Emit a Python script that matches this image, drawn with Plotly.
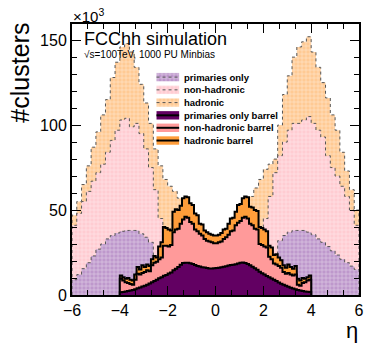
import numpy as np
import plotly.graph_objects as go

# ---------------- data (values in units of 10^3 clusters) ----------------
# full-detector stacks, 0.2-wide eta bins from -6 to 6 (drawn heights of each stack level)
hatched_edges = np.round(np.arange(-6.0, 6.0001, 0.2), 3)
primaries_only = [9, 12, 15.5, 19, 23, 27, 30, 33, 35, 36.5, 37.5, 38, 38, 38, 36, 34, 31, 16, 13, 12,
                  12, 13, 14, 15, 15, 14, 14, 14, 14, 14,
                  14, 14, 14, 14, 14, 15, 15, 14, 13, 12,
                  12, 13, 18, 32, 35, 37, 38, 38, 38, 37, 35.5, 33, 31, 28.5, 26, 23.5, 21, 19, 17, 15]
non_hadronic = [41, 48, 55, 61, 67, 72, 77, 84, 91, 97, 103, 104, 99, 101, 95, 86, 75, 62, 45, 36,
                32, 30, 28, 27, 27, 26, 25, 25, 25, 25,
                25, 25, 25, 25, 26, 27, 27, 28, 30, 32,
                45, 58, 72, 82, 90, 97, 101, 101, 103, 105, 101, 97, 93, 82, 75, 70, 64, 58, 50, 41]
hadronic = [47, 55, 65, 76, 87, 96, 106, 115, 128, 137, 146, 148, 143, 134, 124, 113, 101, 86, 76, 68,
            64, 61, 57, 52, 48, 42, 37, 33, 32, 32,
            32, 32, 34, 38, 44, 50, 52, 58, 63, 68,
            74, 77, 80, 100, 118, 129, 140, 146, 149, 152, 143, 134, 125, 116, 106, 97, 84, 73, 62, 50]

# barrel stacks, 0.1-wide eta bins from -4 to 4
barrel_edges = np.round(np.arange(-4.0, 4.0001, 0.1), 3)
primaries_only_barrel = [1.6, 1.8, 2.0, 2.3, 2.6, 3.0, 3.4, 3.9, 4.4, 5.0, 5.5, 6.1, 6.8, 7.5, 8.3, 9.0,
                         9.8, 10.5, 11.3, 11.8, 12.6, 13.3, 14.5, 15.5, 16.5, 17.8, 18.8, 19.0, 19.0, 18.7,
                         18.2, 17.6, 17.0, 16.8, 16.3, 16.2, 15.9, 15.6, 15.6, 15.8,
                         15.9, 16.1, 16.3, 16.6, 16.9, 17.3, 17.6, 17.8, 18.1, 18.6,
                         19.0, 19.1, 18.9, 18.2, 17.5, 16.6, 15.8, 14.8, 13.7, 12.8, 12.0, 11.2, 10.5, 9.7,
                         9.0, 8.2, 7.4, 6.6, 6.0, 5.4, 4.9, 4.3, 3.8, 3.4, 3.0, 2.6, 2.4, 2.1, 1.9, 1.7]
non_hadronic_barrel = [9.5, 8.5, 7.5, 7, 6.5, 6, 9, 12.5, 12, 13, 13.5, 14.5, 14, 17.5, 19, 19.5,
                       21, 22, 29, 29, 28.5, 29.5, 37, 38.5, 39, 42, 44.5, 46, 45.5, 43,
                       42, 38.5, 37.5, 36, 35, 33, 32, 31.5, 31, 30.5,
                       30.5, 31, 31.5, 33, 34, 35.5, 37.5, 38, 41, 42.5,
                       43.5, 45.5, 46, 45, 42, 41, 39, 38.5, 30, 29.5, 28.5, 28, 22.5, 21,
                       18.5, 18, 17, 16, 13.5, 12.5, 13, 12, 11.5, 12, 6, 5.5, 7, 7.5, 8.5, 9]
hadronic_barrel = [11.5, 10.5, 9.5, 10, 9, 8.5, 12, 16.5, 15, 17.5, 16.5, 18, 17, 21, 23, 22,
                   28.5, 31, 40, 39.5, 38.5, 38, 49, 50.5, 50, 52.5, 57, 58, 57.5, 54,
                   53, 48, 47, 42, 41.5, 38, 37, 36, 35.5, 35,
                   35, 35.5, 36.5, 38.5, 39, 42, 45, 45.5, 49, 53,
                   53.5, 57, 58, 57.5, 52, 51.5, 50, 49.5, 40, 39.5, 38.5, 37.5, 29, 28,
                   23.5, 24, 22, 20.5, 17.5, 16, 18, 16.5, 15.5, 17, 9.5, 8.5, 10, 9.5, 10.5, 11.5]

legend_labels = ["primaries only", "non-hadronic", "hadronic",
                 "primaries only barrel", "non-hadronic barrel", "hadronic barrel"]
x_ticks = [-6, -4, -2, 0, 2, 4, 6]
y_ticks = [0, 50, 100, 150]

# ---------------- styles ----------------
FONT = "Liberation Sans, Arial, Helvetica, sans-serif"
C_PRIM_H = "#BE98CC"
C_NONH_H = "#FFCCD2"
C_HAD_H = "#FFCA94"
C_PRIM_B = "#620062"
C_NONH_B = "#FF9A9A"
C_HAD_B = "#FF9D3A"
HATCH_LINE = "#555555"


def step_xy(edges, vals):
    edges = list(edges)
    vals = list(vals)
    xs = [edges[0]] + edges[:-1] + [edges[-1], edges[-1]]
    ys = [0] + vals + [vals[-1], 0]
    return xs, ys


def pattern(color):
    return dict(shape="+", bgcolor=color, fgcolor="white", size=4, solidity=0.28)


fig = go.Figure()

for vals, col in [(hadronic, C_HAD_H), (non_hadronic, C_NONH_H), (primaries_only, C_PRIM_H)]:
    xs, ys = step_xy(hatched_edges, vals)
    fig.add_trace(go.Scatter(x=xs, y=ys, mode="lines", line_shape="hv", fill="tozeroy",
                             fillcolor=col, fillpattern=pattern(col),
                             line=dict(color=HATCH_LINE, width=1, dash="dot"),
                             hoverinfo="skip", showlegend=False))

for vals, col in [(hadronic_barrel, C_HAD_B), (non_hadronic_barrel, C_NONH_B),
                  (primaries_only_barrel, C_PRIM_B)]:
    xs, ys = step_xy(barrel_edges, vals)
    fig.add_trace(go.Scatter(x=xs, y=ys, mode="lines", line_shape="hv", fill="tozeroy",
                             fillcolor=col, line=dict(color="black", width=2),
                             hoverinfo="skip", showlegend=False))

# ---------------- manual legend (overlay axes in plot-fraction units) ----------------
leg_x0, leg_x1, leg_tx = 0.2945, 0.3733, 0.387
leg_y = [0.804, 0.757, 0.710, 0.663, 0.617, 0.570]
half_h = 0.0155
styles = [
    (C_PRIM_H, True), (C_NONH_H, True), (C_HAD_H, True),
    (C_PRIM_B, False), (C_NONH_B, False), (C_HAD_B, False),
]
for (col, hatched), yc, lab in zip(styles, leg_y, legend_labels):
    bx = [leg_x0, leg_x1, leg_x1, leg_x0, leg_x0]
    by = [yc - half_h, yc - half_h, yc + half_h, yc + half_h, yc - half_h]
    if hatched:
        fig.add_trace(go.Scatter(x=bx, y=by, xaxis="x2", yaxis="y2", mode="lines", fill="toself",
                                 fillcolor=col, fillpattern=pattern(col), line=dict(width=0),
                                 hoverinfo="skip", showlegend=False))
        fig.add_trace(go.Scatter(x=[leg_x0, leg_x1], y=[yc, yc], xaxis="x2", yaxis="y2", mode="lines",
                                 line=dict(color=HATCH_LINE, width=1, dash="dot"),
                                 hoverinfo="skip", showlegend=False))
    else:
        fig.add_trace(go.Scatter(x=bx, y=by, xaxis="x2", yaxis="y2", mode="lines", fill="toself",
                                 fillcolor=col, line=dict(width=0),
                                 hoverinfo="skip", showlegend=False))
        fig.add_trace(go.Scatter(x=[leg_x0, leg_x1], y=[yc, yc], xaxis="x2", yaxis="y2", mode="lines",
                                 line=dict(color="black", width=2),
                                 hoverinfo="skip", showlegend=False))
    fig.add_annotation(x=leg_tx, y=yc, xref="paper", yref="paper", text="<b>%s</b>" % lab,
                       showarrow=False, xanchor="left", yanchor="middle", borderpad=0,
                       font=dict(family=FONT, size=9.5, color="black"))

axis_common = dict(showgrid=False, zeroline=False, showline=True, linecolor="black", linewidth=2,
                   mirror="ticks", ticks="inside", ticklen=9, tickwidth=1, tickcolor="black",
                   tickfont=dict(family=FONT, size=16, color="black"))

fig.update_layout(
    width=369, height=344,
    margin=dict(l=72, r=5, t=24, b=49),
    paper_bgcolor="white", plot_bgcolor="white",
    showlegend=False,
    xaxis=dict(range=[-6, 6], tickvals=x_ticks, ticktext=["\u22126", "\u22124", "\u22122", "0", "2", "4", "6"],
               minor=dict(dtick=2 / 3, tick0=-6, ticks="inside", ticklen=5, tickcolor="black"),
               **axis_common),
    yaxis=dict(range=[0, 159.5], tickvals=y_ticks,
               minor=dict(dtick=10, tick0=0, ticks="inside", ticklen=5, tickcolor="black"),
               **axis_common),
    xaxis2=dict(overlaying="x", range=[0, 1], visible=False, fixedrange=True),
    yaxis2=dict(overlaying="y", range=[0, 1], visible=False, fixedrange=True),
)

fig.add_annotation(x=0.0, y=1.0, xref="paper", yref="paper", text="\u00d710<sup>3</sup>",
                   showarrow=False, xanchor="left", yanchor="bottom", yshift=-2, borderpad=0,
                   font=dict(family=FONT, size=15, color="black"))
fig.add_annotation(x=0.0377, y=0.9446, xref="paper", yref="paper", text="FCChh simulation",
                   showarrow=False, xanchor="left", yanchor="middle", borderpad=0,
                   font=dict(family=FONT, size=18, color="black"))
fig.add_annotation(x=0.0377, y=0.8875, xref="paper", yref="paper", text="\u221as=100TeV, 1000 PU Minbias",
                   showarrow=False, xanchor="left", yanchor="middle", borderpad=0,
                   font=dict(family=FONT, size=10, color="black"))
fig.add_annotation(x=-0.18, y=1.01, xref="paper", yref="paper", text="#clusters", textangle=-90,
                   showarrow=False, xanchor="center", yanchor="top", borderpad=0,
                   font=dict(family=FONT, size=25, color="black"))
fig.add_annotation(x=1.0, y=-0.181, xref="paper", yref="paper", text="\u03b7",
                   showarrow=False, xanchor="right", yanchor="bottom", borderpad=0,
                   font=dict(family=FONT, size=22, color="black"))

fig.write_html("out.html")
